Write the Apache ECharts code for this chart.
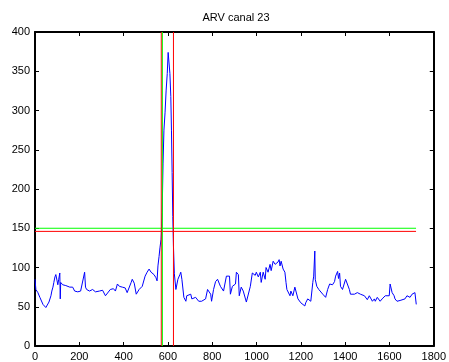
<!DOCTYPE html>
<html>
<head>
<meta charset="utf-8">
<script src="https://cdn.jsdelivr.net/npm/echarts@6/dist/echarts.min.js"></script>
<style>
html,body{margin:0;padding:0;background:#fff;}
#chart{width:449px;height:362px;}
</style>
</head>
<body>
<div id="chart"></div>
<script>
const titleText = "ARV canal 23";
const xTicks = [0,200,400,600,800,1000,1200,1400,1600,1800];
const yTicks = [0,50,100,150,200,250,300,350,400];
const sampleX = [0,4,13,22,36,49,54,63,72,76,81,85,90,94,99,103,107,112,114,116,125,139,157,170,179,193,206,215,224,228,233,246,260,273,291,305,318,327,340,354,363,372,381,394,407,416,434,439,448,457,470,484,497,506,515,524,537,546,551,555,560,564,569,572,574,578,582,587,592,597,601,608,609,613,616,619,622,625,629,636,645,654,658,663,672,681,685,694,703,708,716,725,739,752,770,779,784,793,797,806,815,824,837,851,864,873,878,882,891,905,909,918,922,931,940,954,972,981,994,999,1008,1017,1021,1030,1039,1043,1052,1061,1066,1075,1084,1088,1097,1102,1106,1111,1120,1128,1133,1137,1142,1151,1155,1164,1173,1178,1187,1200,1218,1222,1231,1240,1245,1254,1258,1263,1265,1272,1281,1290,1299,1308,1312,1321,1330,1334,1343,1352,1357,1366,1370,1375,1379,1388,1397,1402,1411,1419,1424,1433,1442,1455,1469,1487,1491,1500,1509,1514,1523,1532,1536,1545,1554,1558,1567,1576,1581,1590,1599,1603,1608,1612,1621,1625,1634,1648,1657,1670,1679,1688,1693,1702,1711,1715,1720,1721];
const arvValues = [85,72,68,62,53,49,51,56,64,70,75,81,88,91,84,78,85,93,60,81,78,77,75,75,70,69,70,71,94,75,72,70,72,69,70,71,64,63,72,73,70,79,76,75,74,68,81,85,80,66,72,76,89,94,98,94,91,87,83,102,114,125,136,152,170,233,275,297,326,347,374,374,347,318,275,221,165,127,92,72,85,91,94,85,62,57,64,64,66,60,61,62,57,57,60,72,70,66,57,72,82,85,76,70,89,91,89,66,76,79,94,91,64,75,70,56,76,93,90,94,88,94,81,94,85,100,94,104,96,108,104,102,107,110,102,108,98,94,81,72,70,64,70,64,75,73,60,55,51,55,60,58,57,81,89,121,85,76,72,70,66,66,62,72,79,81,78,82,89,95,86,93,76,72,72,85,85,72,66,67,66,68,66,64,66,59,64,64,57,60,57,62,60,57,60,61,64,63,64,79,77,68,64,60,57,58,60,60,64,62,62,66,67,68,68,53];
const thresholdGreen = 150;
const thresholdRed = 146;
const hLineSpan = [0, 1720];
const vLinesRed = [570, 625];
const vLineGreen = [575];
const yRange = [0, 400];

function lineSeries(data, color, z) {
  return {type: 'line', data: data, showSymbol: false, symbol: 'none', silent: true,
    color: color, itemStyle: {color: color},
    lineStyle: {color: color, width: 1},
    emphasis: {disabled: true}, animation: false, z: z};
}
const arvData = sampleX.map((x, i) => [x, arvValues[i]]);
const series = [lineSeries(arvData, '#0000ff', 2)];
series.push(lineSeries(hLineSpan.map(x => [x, thresholdGreen]), '#00ff00', 3));
series.push(lineSeries(hLineSpan.map(x => [x, thresholdRed]), '#ff0000', 3));
vLinesRed.forEach(v => series.push(lineSeries(yRange.map(y => [v, y]), '#ff0000', 3)));
vLineGreen.forEach(v => series.push(lineSeries(yRange.map(y => [v, y]), '#00ff00', 3)));

const axisFont = {color: '#000', fontFamily: 'Liberation Sans, Arial, sans-serif', fontSize: 11,
  formatter: v => String(v)};
const axisLineStyle = {show: true, onZero: false, lineStyle: {color: '#000', width: 2}};
const tickStyle = {show: true, inside: true, length: 4, lineStyle: {color: '#000', width: 1}};
const chart = echarts.init(document.getElementById('chart'), null, {renderer: 'canvas'});
chart.setOption({
  animation: false,
  backgroundColor: '#fff',
  tooltip: {show: false},
  title: {text: titleText, left: 236, top: 12, padding: 0, textAlign: 'center',
    textStyle: {fontSize: 11, fontWeight: 'normal', color: '#000', fontFamily: 'Liberation Sans, Arial, sans-serif'}},
  grid: {left: 35, right: 12, top: 32, bottom: 15, containLabel: false},
  xAxis: [{
    type: 'value', min: xTicks[0], max: xTicks[xTicks.length-1], interval: 200, position: 'bottom',
    axisLine: axisLineStyle, axisTick: tickStyle,
    axisLabel: Object.assign({margin: 5}, axisFont),
    splitLine: {show: false}
  }, {
    type: 'value', min: xTicks[0], max: xTicks[xTicks.length-1], interval: 200, position: 'top',
    axisLine: axisLineStyle, axisTick: tickStyle,
    axisLabel: {show: false}, splitLine: {show: false}
  }],
  yAxis: [{
    type: 'value', min: yTicks[0], max: yTicks[yTicks.length-1], interval: 50, position: 'left',
    axisLine: axisLineStyle, axisTick: tickStyle,
    axisLabel: Object.assign({margin: 5}, axisFont),
    splitLine: {show: false}
  }, {
    type: 'value', min: yTicks[0], max: yTicks[yTicks.length-1], interval: 50, position: 'right',
    axisLine: axisLineStyle, axisTick: tickStyle,
    axisLabel: {show: false}, splitLine: {show: false}
  }],
  series: series
});
</script>
</body>
</html>
